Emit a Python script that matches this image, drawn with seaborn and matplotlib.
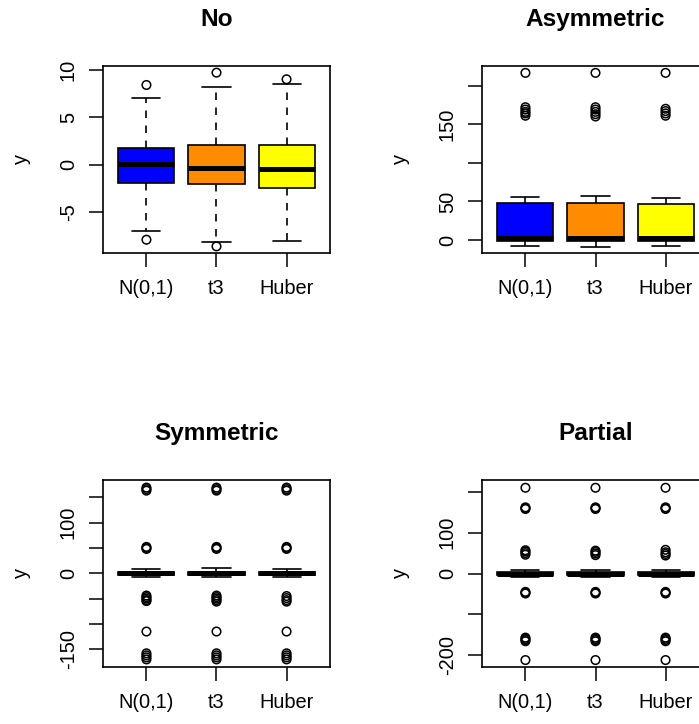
import numpy as np
import pandas as pd
import matplotlib
matplotlib.use("Agg")
import matplotlib.pyplot as plt
import seaborn as sns

# Categories and box colours
groups = ["N(0,1)", "t3", "Huber"]
box_colors = ["#0000FF", "#FF8C00", "#FFFF00"]

# Panel "No"
no_whislo = [-7.0, -8.1, -8.0]
no_q1 = [-1.9, -2.0, -2.5]
no_med = [0.1, -0.3, -0.4]
no_q3 = [1.75, 2.05, 2.05]
no_whishi = [7.0, 8.2, 8.5]
no_fliers = [[8.4, -7.9], [9.7, -8.6], [9.0]]

# Panel "Asymmetric"
asym_whislo = [-7.4, -8.7, -7.4]
asym_q1 = [-1.0, -1.0, -1.0]
asym_med = [2.0, 2.0, 2.0]
asym_q3 = [48.5, 48.5, 46.8]
asym_whishi = [56.3, 57.6, 55.0]
asym_fliers = [[161, 164, 166, 169, 172, 216.5],
               [160, 163, 166, 169, 172, 216.5],
               [161, 164, 167, 170, 216.5]]

# Panel "Symmetric"
sym_whislo = [-8, -8, -8]
sym_q1 = [-3, -3, -3]
sym_med = [0, 0, 0]
sym_q3 = [3, 3, 3]
sym_whishi = [8, 11, 8]
sym_fliers = [[163, 166, 169, 48, 50, 52, -44, -47, -50, -53, -55, -115, -158, -162, -166, -170],
              [163, 166, 169, 48, 50, 52, -44, -47, -50, -53, -56, -115, -158, -162, -166, -170],
              [163, 166, 169, 48, 50, 52, -45, -49, -53, -56, -115, -158, -162, -166, -170]]

# Panel "Partial"
part_whislo = [-8, -8, -8]
part_q1 = [-3, -3, -3]
part_med = [0, 0, 0]
part_q3 = [3, 3, 3]
part_whishi = [8, 8, 8]
part_fliers = [[210, 158, 160, 162, 46, 50, 54, 57, -45, -47, -49, -157, -160, -163, -166, -212],
               [210, 158, 160, 162, 45, 49, 53, 56, -45, -47, -49, -157, -160, -163, -166, -212],
               [210, 158, 160, 162, 44, 48, 52, 58, -45, -47, -49, -157, -160, -163, -166, -212]]

sns.set_style("ticks")
plt.rcParams["font.family"] = ["Liberation Sans", "DejaVu Sans"]
plt.rcParams["text.color"] = "black"
plt.rcParams["axes.labelcolor"] = "black"
plt.rcParams["xtick.color"] = "black"
plt.rcParams["ytick.color"] = "black"
plt.rcParams["axes.titlecolor"] = "black"

fig = plt.figure(figsize=(6.99, 7.24), dpi=100)
W, H = 699, 724


def add_axes(left, top, width=227, height=187):
    return fig.add_axes([left / W, 1 - (top + height) / H, width / W, height / H])


def draw_panel(ax, title, whislo, q1, med, q3, whishi, fliers, ylim, yticks, yticklabels):
    positions = [1, 2, 3]
    stats = []
    for i in range(3):
        stats.append({"whislo": whislo[i], "q1": q1[i], "med": med[i],
                      "q3": q3[i], "whishi": whishi[i], "fliers": []})
    bp = ax.bxp(stats, positions=positions, widths=0.8, patch_artist=True,
                showfliers=False,
                boxprops=dict(linewidth=1.2, edgecolor="black"),
                medianprops=dict(color="black", linewidth=3.6, solid_capstyle="butt"),
                whiskerprops=dict(color="black", linewidth=1.2, linestyle=(0, (4.5, 4.5))),
                capprops=dict(color="black", linewidth=1.2))
    for patch, c in zip(bp["boxes"], box_colors):
        patch.set_facecolor(c)

    # outliers drawn by seaborn
    xs, ys = [], []
    for i, vals in enumerate(fliers):
        xs += [positions[i]] * len(vals)
        ys += list(vals)
    df = pd.DataFrame({"pos": xs, "value": ys})
    sns.scatterplot(data=df, x="pos", y="value", ax=ax, marker="o", s=38,
                    facecolor="none", edgecolor="black", linewidth=1.1,
                    legend=False, zorder=5)

    ax.set_xlim(0.38, 3.62)
    ax.set_ylim(*ylim)
    ax.set_xticks(positions)
    ax.set_xticklabels(groups, fontsize=14.4)
    ax.set_yticks(yticks)
    ax.set_yticklabels(yticklabels, fontsize=14.4, rotation=90, va="center")
    ax.tick_params(axis="both", direction="out", length=10, width=1.1, color="black")
    ax.tick_params(axis="x", pad=9)
    ax.tick_params(axis="y", pad=8)
    for sp in ax.spines.values():
        sp.set_visible(True)
        sp.set_linewidth(1.2)
        sp.set_color("black")
    ax.set_xlabel("")
    ax.set_ylabel("y", fontsize=14.4, labelpad=20)
    ax.set_title(title, fontsize=17.6, fontweight="bold", pad=29)


ax1 = add_axes(103, 66)
draw_panel(ax1, "No", no_whislo, no_q1, no_med, no_q3, no_whishi, no_fliers,
           (-9.3, 10.4), [-5, 0, 5, 10], ["-5", "0", "5", "10"])

ax2 = add_axes(482, 66)
draw_panel(ax2, "Asymmetric", asym_whislo, asym_q1, asym_med, asym_q3, asym_whishi, asym_fliers,
           (-16.8, 225.4), [0, 50, 100, 150, 200], ["0", "50", "", "150", ""])

ax3 = add_axes(103, 480)
draw_panel(ax3, "Symmetric", sym_whislo, sym_q1, sym_med, sym_q3, sym_whishi, sym_fliers,
           (-185, 184), [-150, -100, -50, 0, 50, 100, 150],
           ["-150", "", "", "0", "", "100", ""])

ax4 = add_axes(482, 480)
draw_panel(ax4, "Partial", part_whislo, part_q1, part_med, part_q3, part_whishi, part_fliers,
           (-229, 229), [-200, -100, 0, 100, 200], ["-200", "", "0", "100", ""])

fig.savefig("out.png", dpi=100)
